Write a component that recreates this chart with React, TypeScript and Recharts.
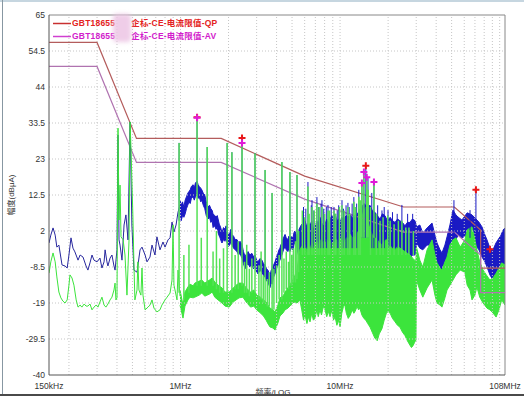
import { ComposedChart, Line, Area, Scatter, XAxis, YAxis, ReferenceLine } from 'recharts';

// 频率单位 MHz，幅度单位 dBμA
const QP_LIMIT: [number, number][] = [
  [0.15, 57], [0.3, 57], [0.53, 29], [1.8, 29], [6, 18], [25, 9], [52, 9], [76, 2.3], [76, -8.8], [108, -8.8],
];
const AV_LIMIT: [number, number][] = [
  [0.15, 50], [0.3, 50], [0.53, 22], [1.8, 22], [6, 11.3], [25, 1.7], [52, 1.7], [76, -5], [76, -16], [108, -16],
];

// 峰值 (蓝) 低频段
const PEAK_LOW: [number, number][] = [
  [0.15, -1.5], [0.154, 0.8], [0.159, 2.9], [0.164, 0.8], [0.168, -2.7], [0.173, -2.1], [0.181, -7.9], [0.189, -8.2],
  [0.195, -8.8], [0.2, -5.0], [0.206, 0], [0.212, -3.0], [0.218, -4.1], [0.228, -6.5], [0.235, -5.0], [0.245, -5.6],
  [0.256, -8.2], [0.263, -9.4], [0.271, -7.3], [0.279, -5.0], [0.287, -6.5], [0.3, -7.0], [0.313, -5.9], [0.322, -8.8],
  [0.332, -7.0], [0.337, -3.5], [0.346, -7.0], [0.351, -8.2], [0.362, -5.9], [0.372, -5.0], [0.383, -8.2], [0.389, -9.4],
  [0.4, -3.5], [0.406, 30.0], [0.412, -0.6], [0.418, -2.1], [0.43, -6.5], [0.443, 3.75], [0.455, 6.7], [0.469, -0.6],
  [0.483, 33.8], [0.496, 3.75], [0.511, -9.4], [0.534, -10.0], [0.558, -3.5], [0.574, -2.7], [0.6, -5.0], [0.617, -7.0],
  [0.644, -5.6], [0.663, -2.1], [0.692, -5.0], [0.712, 0.3], [0.744, -3.5], [0.777, -1.2], [0.8, -2.7], [0.835, -0.6],
  [0.86, 0], [0.885, 4.6], [0.91, 1.7], [0.938, 3.75], [0.965, 7.5], [0.993, 9.6],
];

// 平均值 (绿) 低频段
const AVG_LOW: [number, number][] = [
  [0.15, -10.3], [0.154, -7.0], [0.159, -4.4], [0.164, -7.0], [0.168, -11.4], [0.173, -15.8], [0.178, -17.5], [0.183, -18.4],
  [0.189, -19.0], [0.195, -18.1], [0.2, -13.8], [0.203, -10.8], [0.209, -11.7], [0.215, -13.8], [0.222, -18.1], [0.228, -20.2],
  [0.235, -19.6], [0.241, -20.2], [0.249, -19.3], [0.256, -19.9], [0.263, -19.9], [0.271, -19.3], [0.279, -21.0], [0.287, -20.2],
  [0.296, -19.6], [0.304, -20.2], [0.313, -18.7], [0.322, -17.3], [0.332, -19.6], [0.341, -20.2], [0.351, -19.3], [0.362, -18.1],
  [0.372, -17.3], [0.383, -15.2], [0.389, -13.2], [0.394, -18.1], [0.4, -17.5], [0.406, 32.0], [0.412, 5.2], [0.418, 15.4],
  [0.424, 0.3], [0.437, -0.6], [0.449, -5.0], [0.462, -16.7], [0.476, -0.6], [0.483, 33.8], [0.49, 25.6], [0.503, 6.7],
  [0.511, -7.9], [0.518, -18.1], [0.534, -15.2], [0.541, -7.0], [0.549, -15.2], [0.565, -16.7], [0.574, -8.8], [0.582, -16.7],
  [0.6, -21.0], [0.626, -20.2], [0.644, -19.6], [0.663, -18.1], [0.682, -20.5], [0.712, -21.6], [0.744, -21.0], [0.765, -19.6],
  [0.8, -18.1], [0.824, -17.3], [0.86, -16.1], [0.885, -12.3], [0.898, 3.75], [0.91, -13.8], [0.924, -15.2], [0.951, -18.1],
  [0.965, -9.4], [0.993, -17.0],
];

// 峰值带 [频率, 下沿, 上沿]
const PEAK_BAND: [number, number, number][] = [
  [0.993, 7.5, 11.0], [1.01, 5.0, 9.5], [1.03, 6.5, 10.5], [1.05, 6.0, 9.0], [1.07, 7.0, 11.0], [1.09, 8.5, 12.0],
  [1.11, 9.5, 13.0], [1.13, 10.5, 13.5], [1.15, 10.0, 14.0], [1.17, 11.5, 15.0], [1.2, 12.0, 15.5], [1.22, 11.0, 14.5],
  [1.24, 12.0, 16.0], [1.27, 12.5, 16.5], [1.29, 11.5, 15.5], [1.31, 12.0, 15.0], [1.34, 10.5, 14.5], [1.36, 11.0, 14.0],
  [1.39, 9.5, 13.0], [1.42, 8.5, 12.5], [1.45, 6.5, 10.5], [1.49, 5.5, 9.0], [1.52, 6.0, 9.5], [1.55, 4.5, 8.5],
  [1.58, 5.0, 8.0], [1.6, 3.0, 7.0], [1.64, 3.5, 6.5], [1.67, 2.5, 6.0], [1.7, 3.0, 6.5], [1.72, 1.5, 5.5],
  [1.75, 0.5, 4.0], [1.77, 0, 3.5], [1.8, -1.0, 2.5], [1.82, -1.5, 1.5], [1.86, -0.5, 3.0], [1.9, -1.0, 2.5],
  [1.93, 0, 3.5], [1.96, -1.5, 2.0], [2.0, -2.5, 1.0], [2.04, -2.0, 1.5], [2.07, -1.0, 2.5], [2.1, -2.0, 1.0],
  [2.15, -3.0, 0.5], [2.2, -3.5, -0.5], [2.26, -4.0, -0.5], [2.31, -5.0, -1.5], [2.36, -4.5, -1.0], [2.43, -6.0, -2.0],
  [2.48, -7.5, -4.0], [2.54, -9.0, -5.5], [2.6, -8.0, -4.5], [2.65, -7.5, -4.0], [2.72, -8.5, -5.0], [2.8, -8.0, -4.5],
  [2.87, -9.0, -5.5], [2.93, -8.5, -5.0], [3.0, -10.0, -6.5], [3.06, -10.5, -7.0], [3.15, -9.5, -6.0], [3.24, -10.0, -6.5],
  [3.31, -11.0, -7.5], [3.39, -11.5, -8.0], [3.46, -12.5, -9.0], [3.54, -13.0, -9.5], [3.6, -14.0, -10.5], [3.64, -14.5, -11.0],
  [3.7, -13.0, -9.5], [3.75, -13.5, -9.0], [3.83, -11.5, -8.0], [3.91, -10.5, -7.0], [4.0, -9.0, -5.5], [4.08, -8.0, -4.5],
  [4.14, -7.0, -3.5], [4.2, -6.5, -3.0], [4.26, -5.5, -2.0], [4.32, -5.0, -1.5], [4.42, -3.5, 0], [4.52, -2.5, 1.0],
  [4.6, -3.5, 0], [4.71, -4.0, -0.5], [4.78, -3.0, 0.5], [4.85, -4.0, -0.5], [4.95, -3.0, 0.5], [5.07, -3.5, 0],
  [5.14, -2.0, 1.5], [5.21, -1.5, 2.0], [5.3, -2.5, 1.0], [5.37, -3.0, 0.5], [5.48, -5.0, 2.0], [5.6, -7.0, 3.0],
  [5.75, -9.5, 4.0], [5.9, -11.0, 3.0], [6.03, -10.8, 5.0], [6.2, -13.0, 3.0], [6.35, -12.0, 4.5], [6.48, -14.0, 3.5],
  [6.65, -13.0, 5.0], [6.8, -15.0, 2.5], [6.96, -14.5, 3.0], [7.15, -12.5, 5.0], [7.3, -14.0, 4.0], [7.48, -13.0, 6.0],
  [7.65, -15.0, 4.5], [7.85, -14.5, 3.5], [8.05, -15.5, 4.0], [8.25, -13.5, 5.5], [8.45, -15.0, 4.0], [8.65, -14.0, 5.5],
  [8.9, -13.0, 6.5], [9.1, -14.5, 5.0], [9.3, -13.0, 7.0], [9.55, -15.0, 5.0], [9.8, -14.0, 5.5], [10.0, -13.5, 4.5],
  [10.25, -12.5, 6.0], [10.5, -13.5, 5.0], [10.7, -12.0, 6.0], [10.95, -11.0, 6.5], [11.25, -12.0, 6.0], [11.6, -10.5, 7.0],
  [11.9, -12.0, 5.5], [12.2, -11.5, 6.5], [12.4, -12.0, 5.0], [12.8, -10.0, 7.0], [13.05, -9.0, 7.5], [13.3, -8.5, 8.5],
  [13.7, -8.0, 9.0], [14.1, -7.5, 10.0], [14.5, -8.0, 9.5], [15.0, -7.0, 9.0], [15.4, -6.5, 9.5], [15.9, -8.5, 8.0],
  [16.5, -8.0, 7.5], [17.1, -7.0, 6.5], [17.8, -7.5, 5.5], [18.4, -8.5, 7.0], [19.1, -7.5, 6.5], [19.8, -7.0, 5.0],
  [20.6, -7.5, 6.0], [21.3, -6.0, 5.0], [22.1, -6.5, 4.5], [22.9, -5.5, 5.5], [23.7, -6.0, 5.0], [24.6, -5.0, 4.5],
  [25.5, -5.5, 3.5], [26.4, -6.5, 4.5], [27.4, -6.0, 4.5], [28.4, -5.0, 5.5], [29.5, -5.0, 5.0], [30.2, -1.5, 3.2],
  [31.6, -3.0, 3.75], [33.0, -3.5, 1.4], [35.1, -2.1, 2.9], [37.7, -2.1, 4.3], [39.3, -5.9, 0.8], [40.5, -7.3, -1.5],
  [42.3, -8.8, -3.5], [43.5, -9.4, -4.4], [45.4, -7.9, -2.1], [46.8, -6.5, 0.3], [48.8, -3.5, 3.75], [51.0, -2.1, 8.1],
  [53.2, -0.6, 6.7], [54.8, 0.8, 6.1], [58.0, 0, 5.2], [62.6, 0.8, 7.3], [67.1, -0.6, 6.7], [74.1, -3.5, 4.6],
  [77.5, -5.6, 3.2], [80.9, -7.0, 0.8], [83.3, -8.5, -0.6], [86.9, -10.8, -3.0], [90.8, -12.3, -3.5], [94.8, -12.3, -1.5],
  [97.6, -11.7, -0.6], [102, -10.0, 0.8], [105, -9.4, 2.3], [108, -8.8, 2.9],
];

// 平均值带 [频率, 下沿, 上沿]
const AVG_BAND: [number, number, number][] = [
  [0.993, -19.6, -15.2], [1.037, -23.4, -19.6], [1.067, -19.9, -15.8], [1.114, -18.1, -14.3], [1.147, -17.3, -13.5],
  [1.2, -17.5, -14.0], [1.23, -17.3, -13.2], [1.31, -16.7, -12.6], [1.36, -16.1, -12.3], [1.42, -17.0, -13.2],
  [1.52, -16.4, -12.3], [1.58, -15.8, -11.7], [1.64, -17.3, -12.9], [1.72, -18.1, -13.8], [1.82, -19.0, -14.6],
  [1.9, -19.9, -15.8], [2.02, -20.2, -15.8], [2.14, -18.7, -14.6], [2.23, -18.1, -13.8], [2.33, -17.5, -13.2],
  [2.46, -17.3, -13.2], [2.58, -18.7, -14.6], [2.75, -20.2, -15.8], [2.88, -19.9, -15.2], [3.0, -21.0, -16.7],
  [3.17, -21.9, -17.3], [3.31, -22.8, -18.1], [3.44, -24.0, -18.7], [3.54, -25.1, -19.6], [3.64, -26.0, -20.5],
  [3.8, -26.3, -21.0], [3.91, -26.9, -21.6], [4.08, -24.8, -19.6], [4.2, -22.8, -17.5], [4.39, -21.9, -17.0],
  [4.52, -21.0, -15.8], [4.71, -20.5, -14.6], [4.92, -19.6, -13.2], [5.14, -18.7, -11.7], [5.37, -19.0, -9.4],
  [5.6, -18.1, -3.5], [5.75, -21.0, -2.5], [5.9, -24.0, -3.0], [6.03, -22.5, -2.0], [6.2, -25.0, -4.0],
  [6.35, -23.0, -2.5], [6.48, -24.5, -3.5], [6.65, -22.0, -1.5], [6.8, -24.0, -3.0], [6.96, -23.5, -2.0],
  [7.15, -21.0, -1.0], [7.3, -23.0, -2.5], [7.48, -21.0, -0.5], [7.65, -22.5, -2.0], [7.85, -20.0, -1.0],
  [8.05, -21.0, -2.0], [8.25, -23.0, -0.5], [8.45, -21.5, -1.5], [8.65, -23.0, -0.5], [8.9, -21.0, -2.0],
  [9.1, -24.0, -1.0], [9.3, -23.0, -2.0], [9.55, -25.5, -0.5], [9.8, -24.0, -1.5], [10.0, -26.0, 0],
  [10.25, -22.0, -1.0], [10.5, -20.0, -0.5], [10.7, -19.5, -1.5], [10.95, -22.0, 0], [11.25, -23.5, -0.5],
  [11.6, -22.5, 1.0], [11.9, -21.0, 0], [12.2, -22.0, 0.5], [12.4, -21.5, -0.5], [12.8, -20.0, 1.5],
  [13.05, -21.0, 2.0], [13.3, -20.5, 2.0], [13.7, -22.5, 6.0], [14.1, -23.5, 8.0], [14.5, -24.0, 9.0],
  [14.9, -25.0, 5.0], [15.4, -26.0, 2.5], [15.9, -27.5, 1.0], [16.5, -29.2, 0], [17.1, -30.0, -0.5],
  [17.6, -28.0, -1.5], [18.3, -26.5, -2.0], [18.9, -24.0, -1.0], [19.5, -22.0, -0.5], [20.0, -21.5, -2.0],
  [20.6, -22.0, -3.0], [21.3, -23.5, -2.5], [22.1, -24.5, -3.5], [22.9, -25.5, -2.5], [23.7, -26.0, -3.0],
  [24.6, -27.5, -3.5], [25.5, -28.5, -4.0], [26.4, -30.0, -4.5], [27.4, -31.3, -5.0], [28.0, -32.0, -5.5],
  [28.6, -31.5, -6.0], [29.3, -30.5, -6.5], [29.9, -29.8, -6.5], [30.1, -12.3, -2.7], [31.6, -15.2, -6.5],
  [33.0, -17.3, -8.5], [35.1, -14.6, -3.5], [37.7, -12.3, -0.6], [39.3, -16.7, -5.0], [40.5, -19.0, -7.3],
  [42.3, -19.6, -8.8], [43.5, -20.2, -9.4], [45.4, -17.5, -7.0], [46.8, -15.2, -5.6], [48.8, -13.8, -2.1],
  [51.0, -12.3, -0.6], [53.2, -10.8, 0], [56.6, -9.4, -2.7], [60.5, -10.0, -0.6], [62.6, -13.8, 2.3],
  [65.2, -15.2, 2.9], [67.1, -18.1, 3.2], [70.0, -16.7, -0.6], [72.0, -14.3, -3.5], [75.0, -17.3, -7.0],
  [78.7, -19.0, -9.4], [83.3, -20.5, -11.1], [86.9, -21.0, -12.3], [90.8, -21.9, -11.7], [95.0, -23.1, -10.3],
  [99.0, -21.0, -8.8], [103, -18.1, -7.3], [108, -19.6, -7.9],
];

// 窄带尖峰 [频率, 底, 顶]
const PEAK_SPIKES: [number, number, number][] = [
  [0.98, 5, 27.7], [1.27, 14, 35.0], [1.47, 10, 26.5], [1.96, 0, 27.7], [2.1, 0, 25.0], [2.43, -3, 29.1],
  [2.93, -6, 24.7], [3.39, -9, 19.8], [3.75, -11, 13.1], [4.32, -3, 22.1], [4.85, -2, 19.2], [5.37, -1, 18.3],
  [5.9, -3, 9.0], [6.1, -3, 8.5], [6.29, -3, 16.3], [6.6, -3, 9.5], [6.67, -3, 11.0], [6.85, -3, 8.0],
  [7.16, -3, 11.9], [7.35, -3, 9.0], [7.6, -3, 10.0], [7.7, -3, 11.0], [7.9, -3, 8.5], [8.2, -3, 9.0],
  [8.4, -3, 9.6], [8.8, -3, 9.0], [9.16, -3, 9.0], [9.6, -3, 8.0], [9.8, -3, 9.5], [10.28, -3, 11.0],
  [10.5, -3, 8.5], [10.9, -3, 9.5], [11.2, -3, 10.2], [11.4, -3, 9.0], [11.9, -3, 10.0], [12.2, -3, 11.9],
  [12.7, -3, 10.0], [13.1, -3, 14.0], [13.7, 0, 16.0], [14.1, 0, 19.2], [14.5, 0, 21.0], [14.96, 0, 17.7],
  [15.8, -3, 13.1], [16.3, -3, 16.3], [17.2, -3, 9.5], [18.3, -3, 8.0], [18.9, -3, 9.0], [19.97, -3, 8.1],
  [21.3, -3, 7.5], [22.8, -3, 7.0], [24.4, -3, 9.6], [26.5, -3, 7.0], [28.5, -3, 7.0], [51.7, 0, 11.0],
  [65.2, 0, 8.1], [71.0, 2, 14.0], [86.9, -5, -2.5],
];

const AVG_SPIKES: [number, number, number][] = [
  [0.98, -16, 27.7], [1.05, -18, -5], [1.13, -16, -2], [1.27, -14, 35.0], [1.35, -14, 0], [1.47, -14, 26.5],
  [1.6, -14, -4], [1.68, -15, 2], [1.76, -16, -6], [1.86, -16, -3], [1.96, -16, 27.7], [2.1, -16, 25.0],
  [2.2, -15, -5], [2.3, -15, -1], [2.43, -14, 27.7], [2.52, -16, -7], [2.6, -16, -2], [2.7, -17, -9],
  [2.8, -16, -6], [2.93, -16, 24.7], [3.1, -18, -8], [3.2, -18, -4], [3.3, -19, -11], [3.39, -19, 19.8],
  [3.5, -20, -12], [3.6, -20, -10], [3.75, -21, 13.1], [3.85, -21, -9], [4.0, -19, -8], [4.15, -18, -5],
  [4.32, -18, 22.1], [4.45, -16, -6], [4.6, -15, -4], [4.75, -15, -7], [4.85, -14, 19.2], [4.98, -14, -5],
  [5.1, -13, -3], [5.25, -13, -1], [5.37, -12, 18.3], [5.5, -10, 2], [5.8, -5, 8.0], [6.0, -5, 6.0],
  [6.29, -5, 15.0], [6.4, -5, 7.0], [6.67, -5, 9.0], [6.9, -5, 8.0], [7.16, -5, 10.0], [7.4, -5, 9.0],
  [7.7, -5, 9.0], [8.0, -5, 7.0], [8.4, -5, 8.0], [8.6, -5, 8.0], [9.16, -5, 8.0], [9.4, -5, 7.0],
  [9.9, -5, 9.0], [10.28, -5, 9.5], [10.6, -5, 8.0], [11.2, -5, 9.0], [11.5, -5, 7.0], [12.2, -5, 10.5],
  [12.5, -5, 9.0], [13.1, -5, 12.0], [13.4, -5, 11.0], [13.7, 0, 16.0], [14.1, 0, 19.2], [14.7, 0, 17.7],
  [15.0, 0, 14.0], [15.5, -5, 9.0], [16.3, 0, 16.3], [16.9, -5, 7.0], [17.8, -5, 5.0], [18.6, -5, 6.0],
  [19.9, -5, 6.5], [20.6, -5, 5.0], [21.8, -5, 4.0], [23.2, -5, 5.0], [24.4, -5, 5.0], [25.8, -5, 3.0],
  [27.0, -5, 3.0], [28.8, -5, 2.0],
];

const QP_MARKS: [number, number][] = [[1.27, 35.2], [2.43, 29.1], [14.5, 21.0], [71.0, 14.0], [86.9, -3.3]];
const AV_MARKS: [number, number][] = [[1.27, 35.0], [2.43, 27.7], [13.7, 16.0], [14.1, 19.2], [14.7, 17.7], [16.3, 16.3]];

const X_TICKS = [0.15, 1, 10, 108];
const X_TICK_LABELS = ['150kHz', '1MHz', '10MHz', '108MHz'];
const Y_TICKS = [-40, -29.5, -19, -8.5, 2, 12.5, 23, 33.5, 44, 54.5, 65];
const X_GRID = [0.2, 0.3, 0.4, 0.5, 0.6, 0.7, 0.8, 0.9, 1, 2, 3, 4, 5, 6, 7, 8, 9, 10, 20, 30, 40, 50, 60, 70, 80, 90, 100];

const PEAK_LINE_COLOR = '#28289e';
const PEAK_COLOR = '#1a1ac4';
const AVG_COLOR = '#3ce43c';
const AVG_SPIKE_COLOR = '#55e255';

const toPts = (rows: [number, number][]) => rows.map(([f, v]) => ({ f, v }));
const toBand = (rows: [number, number, number][]) => rows.map(([f, lo, hi]) => ({ f, r: [lo, hi] }));
// 每个尖峰一段竖线，用 null 断开
const toSpikes = (rows: [number, number, number][]) =>
  rows.flatMap(([f, lo, hi]) => [{ f, v: lo }, { f, v: hi }, { f, v: null }]);

const plus = (color: string) => (props: any) => {
  const { cx, cy } = props;
  if (cx == null || cy == null) return <g />;
  return (
    <path d={`M${cx - 3.5},${cy}h7M${cx},${cy - 3.5}v7`} stroke={color} strokeWidth={2} fill="none" />
  );
};

const tickStyle = { fontSize: 8.5, fill: '#333', fontFamily: '"Liberation Sans", Arial, sans-serif' };
const cjk = '"Liberation Sans", Arial, "Noto Sans CJK SC", sans-serif';

export default function App() {
  return (
    <div style={{ position: 'fixed', left: 0, top: 0, width: 524, height: 397, background: '#fff', overflow: 'hidden' }}>
      <ComposedChart width={524} height={397} margin={{ top: 15, right: 19, bottom: 4, left: 0 }}>
        <XAxis
          dataKey="f"
          type="number"
          scale="log"
          domain={[0.15, 108]}
          allowDataOverflow
          ticks={X_TICKS}
          interval={0}
          tickFormatter={(v: number) => X_TICK_LABELS[X_TICKS.indexOf(v)] ?? ''}
          tick={tickStyle}
          tickLine={false}
          axisLine={{ stroke: '#555' }}
          height={18}
        />
        <YAxis
          type="number"
          domain={[-40, 65]}
          allowDataOverflow
          ticks={Y_TICKS}
          interval={0}
          tick={tickStyle}
          tickLine={false}
          tickSize={2}
          tickMargin={2}
          axisLine={{ stroke: '#555' }}
          width={49}
        />
        {X_GRID.map((g) => (
          <ReferenceLine key={`gx${g}`} x={g} stroke="#c6c6c6" strokeDasharray="1 2" />
        ))}
        {Y_TICKS.slice(1, -1).map((g) => (
          <ReferenceLine key={`gy${g}`} y={g} stroke="#c6c6c6" strokeDasharray="1 2" />
        ))}
        <ReferenceLine y={65} stroke="#888" />
        <ReferenceLine x={108} stroke="#888" />

        <Line data={toPts(QP_LIMIT)} dataKey="v" stroke="#b45c5c" strokeWidth={1.2} dot={false} isAnimationActive={false} />
        <Line data={toPts(AV_LIMIT)} dataKey="v" stroke="#b073b0" strokeWidth={1.2} dot={false} isAnimationActive={false} />

        <Line data={toPts(PEAK_LOW)} dataKey="v" stroke={PEAK_LINE_COLOR} strokeWidth={1} dot={false} isAnimationActive={false} />
        <Area data={toBand(PEAK_BAND)} dataKey="r" stroke={PEAK_COLOR} strokeWidth={1} fill={PEAK_COLOR} fillOpacity={1} dot={false} isAnimationActive={false} />
        <Line data={toSpikes(PEAK_SPIKES)} dataKey="v" stroke={PEAK_COLOR} strokeWidth={1} dot={false} isAnimationActive={false} />

        <Line data={toPts(AVG_LOW)} dataKey="v" stroke={AVG_COLOR} strokeWidth={1} dot={false} isAnimationActive={false} />
        <Area data={toBand(AVG_BAND)} dataKey="r" stroke={AVG_COLOR} strokeWidth={1} fill={AVG_COLOR} fillOpacity={1} dot={false} isAnimationActive={false} />
        <Line data={toSpikes(AVG_SPIKES)} dataKey="v" stroke={AVG_SPIKE_COLOR} strokeWidth={1.5} dot={false} isAnimationActive={false} />

        <Scatter data={toPts(QP_MARKS)} dataKey="v" shape={plus('#e81818')} isAnimationActive={false} />
        <Scatter data={toPts(AV_MARKS)} dataKey="v" shape={plus('#e01ad8')} isAnimationActive={false} />
      </ComposedChart>

      {/* 图例 */}
      <svg style={{ position: 'absolute', left: 0, top: 0 }} width={80} height={45}>
        <line x1={53} x2={71} y1={23.5} y2={23.5} stroke="#c83030" strokeWidth={1.5} />
        <line x1={53} x2={71} y1={36.5} y2={36.5} stroke="#d040d0" strokeWidth={1.5} />
      </svg>
      <div style={{ position: 'absolute', left: 72, top: 18, font: `bold 8.5px ${cjk}`, color: '#e42222', whiteSpace: 'nowrap', lineHeight: '11px', letterSpacing: 0.2 }}>
        GBT18655<span style={{ display: 'inline-block', width: 16 }} />企标-CE-电流限值-QP
      </div>
      <div style={{ position: 'absolute', left: 72, top: 31, font: `bold 8.5px ${cjk}`, color: '#d21ccc', whiteSpace: 'nowrap', lineHeight: '11px', letterSpacing: 0.2 }}>
        GBT18655<span style={{ display: 'inline-block', width: 16 }} />企标-CE-电流限值-AV
      </div>
      <div style={{ position: 'absolute', left: 113, top: 14, width: 18, height: 28, background: 'rgba(236,196,228,0.85)', filter: 'blur(2px)', borderRadius: 4 }} />

      {/* 坐标轴标题 */}
      <div style={{ position: 'absolute', left: 10, top: 195, transform: 'translate(-50%,-50%) rotate(-90deg)', font: `8px ${cjk}`, color: '#333', whiteSpace: 'nowrap' }}>
        幅度(dBμA)
      </div>
      <div style={{ position: 'absolute', left: 273, top: 391, transform: 'translate(-50%,-50%)', font: `8px ${cjk}`, color: '#333', whiteSpace: 'nowrap' }}>
        频率/LOG
      </div>

      {/* 外框 */}
      <div style={{ position: 'absolute', left: 0, top: 0, width: 524, height: 2, background: '#c6d6e0' }} />
      <div style={{ position: 'absolute', left: 2, top: 0, width: 1, height: 395, background: '#8797a2' }} />
      <div style={{ position: 'absolute', left: 0, top: 394, width: 524, height: 2, background: '#4a4a4a' }} />
    </div>
  );
}
